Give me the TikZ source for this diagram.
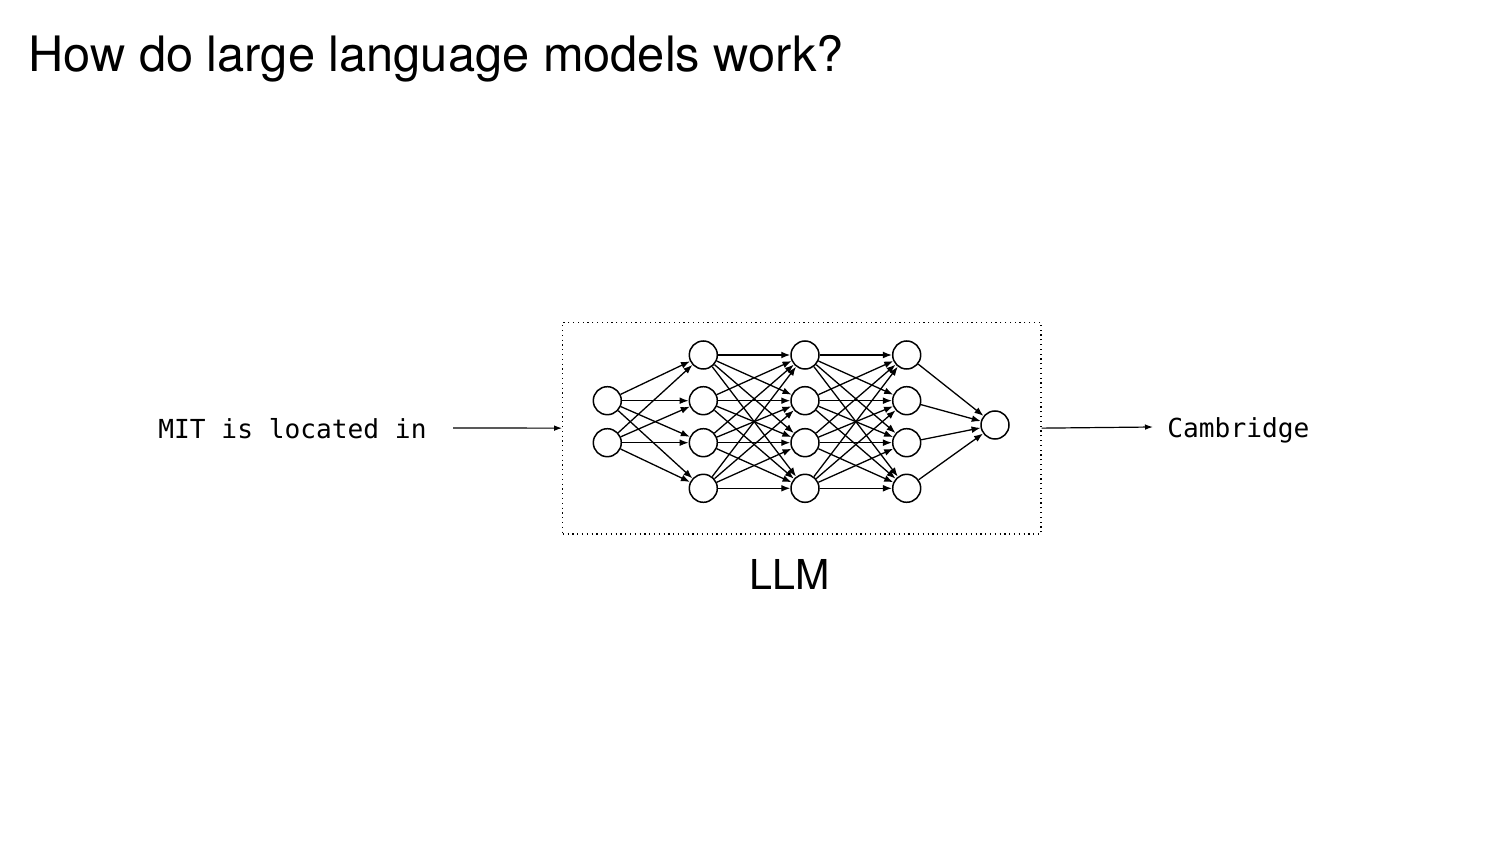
\documentclass[tikz,border=0pt]{standalone}
\usepackage{fontspec}
\setmainfont{TeX Gyre Heros}
\setmonofont{DejaVu Sans Mono}
\usetikzlibrary{arrows.meta}
\tikzset{
  neuron/.style={circle,draw=black,line width=0.75pt,minimum size=14pt,inner sep=0pt,fill=white},
  edge/.style={line width=0.65pt,-{Latex[length=4.5pt,width=3.4pt]}},
  flow/.style={line width=0.6pt,-{Latex[length=4pt,width=2.8pt]}},
  monotext/.style={font=\ttfamily\fontsize{13.1pt}{16pt}\selectfont,inner sep=0pt,anchor=base west},
}
\begin{document}
\begin{tikzpicture}[x=0.5pt,y=-0.5pt]
\useasboundingbox (0,0) rectangle (1500,844);
\fill[white] (0,0) rectangle (1500,844);
\node[inner sep=0pt,anchor=base west,font=\fontsize{24.4pt}{28pt}\selectfont] (title) at (28,72) {How do large language models work?};
% box
\node[draw=black,line width=0.6pt,dash pattern=on 0.6pt off 1.8pt,minimum width=239.15pt,minimum height=105.85pt,inner sep=0pt] (llmbox) at (801.85,428.15) {};
\node[inner sep=0pt,anchor=base,font=\fontsize{20.6pt}{24pt}\selectfont] (llm) at (790,589) {LLM};
% neurons
\node[neuron] (a1) at (607.3,400.7) {};
\node[neuron] (a2) at (607.3,442.7) {};
\foreach \n/\y in {1/355,2/400.7,3/442.7,4/488.3}{
  \node[neuron] (b\n) at (703.3,\y) {};
  \node[neuron] (c\n) at (805,\y) {};
  \node[neuron] (d\n) at (906.7,\y) {};
}
\node[neuron] (o) at (995,425) {};
\foreach \i in {1,2}{\foreach \j in {1,...,4}{\draw[edge] (a\i) -- (b\j);}}
\foreach \i in {1,...,4}{\foreach \j in {1,...,4}{\draw[edge] (b\i) -- (c\j); \draw[edge] (c\i) -- (d\j);}}
\foreach \i in {1,...,4}{\draw[edge] (d\i) -- (o);}
% input / output
\node[monotext] (mit) at (158,438.5) {MIT is located in};
\node[monotext] (cam) at (1167,437.5) {Cambridge};
\coordinate (inL) at (453,428);
\coordinate (outR) at (1153,427);
\draw[flow] (inL) -- (llmbox.west);
\draw[flow] (llmbox.east) -- (outR);
\end{tikzpicture}
\end{document}
